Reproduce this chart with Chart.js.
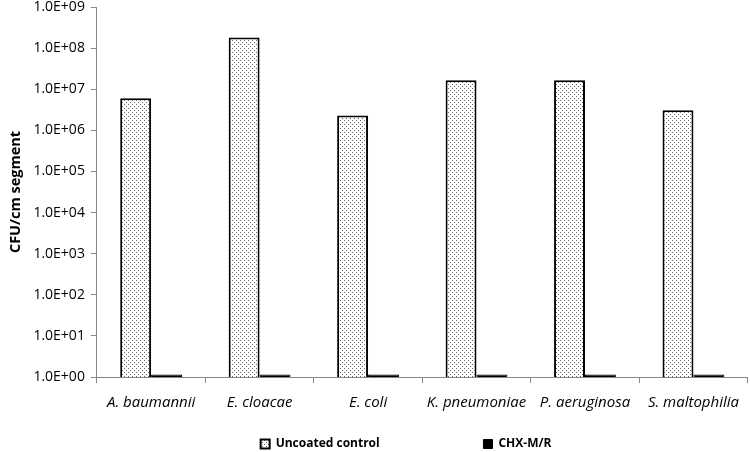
<!DOCTYPE html>
<html>
<head>
<meta charset="utf-8">
<script src="https://cdn.jsdelivr.net/npm/chart.js@4"></script>
<style>
  html, body { margin: 0; padding: 0; background: #fff; }
  #wrap { width: 750px; height: 452px; }
</style>
</head>
<body>
<div id="wrap"><canvas id="chart"></canvas></div>
<script>
const species = ["A. baumannii", "E. cloacae", "E. coli", "K. pneumoniae", "P. aeruginosa", "S. maltophilia"];
const uncoated = [6.0e6, 1.8e8, 2.3e6, 1.65e7, 1.65e7, 3.1e6];
const chxmr = [1.15, 1.15, 1.15, 1.15, 1.15, 1.15];
const yTicks = [1e0, 1e1, 1e2, 1e3, 1e4, 1e5, 1e6, 1e7, 1e8, 1e9];

function dotPattern() {
    const c = document.createElement("canvas");
    c.width = 4; c.height = 4;
    const g = c.getContext("2d");
    g.fillStyle = "#fff";
    g.fillRect(0, 0, 4, 4);
    g.fillStyle = "#666";
    g.fillRect(0, 0, 1, 1);
    g.fillRect(2, 2, 1, 1);
    return g.createPattern(c, "repeat");
}

const fmtExp = (v) => {
    const e = Math.round(Math.log10(v));
    return "1.0E+" + (e < 10 ? "0" + e : e);
};

// legend sits a bit right of centre in the original
const legendShift = {
    id: "legendShift",
    afterLayout(chart) {
        chart.legend.left += 29;
        chart.legend.right += 29;
    }
};

Chart.defaults.font.family = "'Open Sans', 'Liberation Sans', sans-serif";
Chart.defaults.color = "#000";

const ctx = document.getElementById("chart").getContext("2d");
new Chart(ctx, {
    type: "bar",
    data: {
        labels: species,
        datasets: [
            {
                label: "Uncoated control" + " ".repeat(32),
                data: uncoated,
                backgroundColor: dotPattern(),
                borderColor: "#000",
                borderWidth: 2,
                borderSkipped: "bottom",
                barPercentage: 1,
                categoryPercentage: 0.57
            },
            {
                label: "CHX-M/R",
                data: chxmr,
                backgroundColor: "#000",
                borderColor: "#000",
                borderWidth: 1,
                barPercentage: 1,
                categoryPercentage: 0.57
            }
        ]
    },
    options: {
        responsive: true,
        maintainAspectRatio: false,
        animation: false,
        layout: { padding: { top: 7, right: 0, left: 4, bottom: -8 } },
        scales: {
            x: {
                offset: true,
                afterFit: (s) => { s.height = 57; },
                grid: { display: true, drawOnChartArea: false, drawTicks: true, tickLength: 6, color: "#888", offset: true },
                border: { color: "#888", width: 1 },
                ticks: { font: { size: 15, style: "italic" }, color: "#000", maxRotation: 0, padding: 11 }
            },
            y: {
                type: "logarithmic",
                min: 1,
                max: 1e9,
                afterBuildTicks: (axis) => { axis.ticks = yTicks.map(v => ({ value: v })); },
                afterFit: (s) => { s.paddingTop = 0; },
                grid: { display: true, drawOnChartArea: false, drawTicks: true, tickLength: 6, color: "#888" },
                border: { color: "#888", width: 1 },
                ticks: { font: { size: 14 }, color: "#000", padding: 6, callback: (v) => fmtExp(v) },
                title: { display: true, text: "CFU/cm segment", font: { size: 14.5, weight: "bold" }, padding: 3 }
            }
        },
        plugins: {
            legend: {
                position: "bottom",
                labels: { boxWidth: 9, boxHeight: 9, font: { size: 12, weight: "bold" }, padding: 4 }
            },
            tooltip: { enabled: false }
        }
    },
    plugins: [legendShift]
});
</script>
</body>
</html>
